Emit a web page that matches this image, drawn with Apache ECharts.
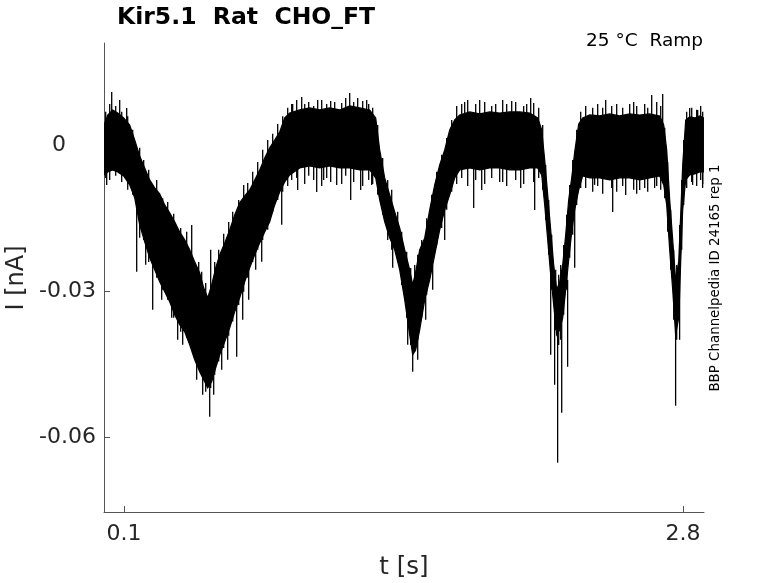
<!DOCTYPE html>
<html><head><meta charset="utf-8">
<script src="https://cdn.jsdelivr.net/npm/echarts@6/dist/echarts.min.js"></script>
<style>html,body{margin:0;padding:0;background:#fff}#c{width:778px;height:583px}</style>
</head><body><div id="c"></div>
<script>
// Envelope of the noisy current trace (time in s, current in nA)
const timeS = [0.0035,0.0213,0.0454,0.0696,0.0985,0.1275,0.1517,0.1758,0.2000,0.2241,0.2483,0.2724,0.2966,0.3207,0.3449,0.3690,0.3932,0.4173,0.4415,0.4656,0.4849,0.5043,0.5236,0.5429,0.5622,0.5864,0.6105,0.6347,0.6588,0.6830,0.7071,0.7313,0.7554,0.7796,0.8037,0.8279,0.8520,0.8762,0.9003,0.9486,0.9969,1.0452,1.0935,1.1418,1.1901,1.2384,1.2867,1.3157,1.3350,1.3592,1.3833,1.4075,1.4316,1.4558,1.4799,1.4944,1.5089,1.5282,1.5524,1.5765,1.6007,1.6248,1.6490,1.6731,1.6973,1.7214,1.7697,1.8180,1.8663,1.9146,1.9629,2.0112,2.0595,2.0982,2.1175,2.1320,2.1465,2.1609,2.1754,2.1899,2.2044,2.2189,2.2334,2.2479,2.2624,2.2769,2.2962,2.3155,2.3493,2.3976,2.4459,2.4942,2.5425,2.5908,2.6391,2.6874,2.7068,2.7212,2.7357,2.7502,2.7643,2.7792,2.7888,2.7985,2.8130,2.8323,2.8565,2.8806,2.8999];
const upperNA = [0.0041,0.00614,0.00717,0.00655,0.00553,0.0041,0.00102,-0.00225,-0.00471,-0.00717,-0.00881,-0.01003,-0.01229,-0.01393,-0.01577,-0.01782,-0.01946,-0.0215,-0.02396,-0.02621,-0.02928,-0.03133,-0.02867,-0.02519,-0.02253,-0.02007,-0.01741,-0.01434,-0.01188,-0.01044,-0.00922,-0.00717,-0.00512,-0.00266,-0.00061,0.00102,0.00266,0.00553,0.00655,0.00717,0.00758,0.00717,0.00758,0.00717,0.00799,0.00758,0.00717,0.00553,-0.00102,-0.00676,-0.01024,-0.01372,-0.017,-0.0215,-0.0256,-0.02867,-0.02601,-0.0215,-0.01905,-0.01331,-0.00819,-0.0041,-0.00102,0.00307,0.00512,0.00614,0.00676,0.00635,0.00676,0.00655,0.00676,0.00676,0.00655,0.00553,0.00307,-0.00307,-0.01024,-0.01741,-0.02457,-0.02969,-0.02806,-0.02457,-0.01843,-0.01126,-0.00676,-0.00143,0.0043,0.00553,0.00614,0.00594,0.00635,0.00594,0.00635,0.00614,0.00635,0.00594,0.0041,-0.00102,-0.01126,-0.01946,-0.02765,-0.02396,-0.01434,-0.0041,0.00512,0.00573,0.00553,0.00594,0.00553];
const lowerNA = [-0.00614,-0.00553,-0.00512,-0.00553,-0.00635,-0.00819,-0.01085,-0.01638,-0.01986,-0.02314,-0.0256,-0.02806,-0.0301,-0.03215,-0.03481,-0.03686,-0.0383,-0.04096,-0.04403,-0.04649,-0.04813,-0.04976,-0.04854,-0.04567,-0.04301,-0.04034,-0.03748,-0.0342,-0.03133,-0.02806,-0.02519,-0.02253,-0.02007,-0.01782,-0.01577,-0.01229,-0.00963,-0.00758,-0.00614,-0.00471,-0.0043,-0.00471,-0.0043,-0.00471,-0.00471,-0.00512,-0.00512,-0.00676,-0.01126,-0.01577,-0.01905,-0.0215,-0.0256,-0.03174,-0.03891,-0.04301,-0.04198,-0.03789,-0.03174,-0.02765,-0.02253,-0.01741,-0.01331,-0.01024,-0.00676,-0.00512,-0.00471,-0.00512,-0.00471,-0.00471,-0.00512,-0.00512,-0.00471,-0.00471,-0.00614,-0.01229,-0.01946,-0.02662,-0.03277,-0.03891,-0.03789,-0.03543,-0.02969,-0.02355,-0.01782,-0.01331,-0.00922,-0.00635,-0.00676,-0.00676,-0.00717,-0.00676,-0.00676,-0.00717,-0.00676,-0.00635,-0.00819,-0.01229,-0.0215,-0.02969,-0.03891,-0.03543,-0.02396,-0.01331,-0.00717,-0.00614,-0.00594,-0.00553,-0.00553];

// Noise columns: time, highest and lowest excursion of the trace at that time
const hairT  = [0.0116,0.0309,0.0599,0.0889,0.1179,0.1420,0.1758,0.1951,0.2193,0.2579,0.2869,0.3111,0.3400,0.3738,0.4028,0.4270,0.4608,0.4753,0.4946,0.5187,0.5381,0.5574,0.5815,0.6057,0.6250,0.6540,0.6781,0.6975,0.7216,0.7458,0.7699,0.7941,0.8182,0.8424,0.8665,0.8907,0.9100,0.9341,0.9728,0.9921,1.0162,1.0549,1.0790,1.0983,1.1515,1.1708,1.2094,1.2529,1.2819,1.3012,1.3254,1.3495,1.3737,1.3930,1.4220,1.4413,1.4654,1.4847,1.5041,1.5186,1.5379,1.5620,1.5862,1.6103,1.6345,1.6586,1.6828,1.7069,1.7311,1.7601,1.7987,1.8422,1.8760,1.9291,1.9484,1.9919,2.0305,2.0788,2.1030,2.1223,2.1368,2.1513,2.1657,2.1851,2.1996,2.2092,2.2237,2.2382,2.2527,2.2672,2.2865,2.3058,2.3300,2.3638,2.3879,2.4121,2.4556,2.4797,2.5087,2.5618,2.5763,2.6150,2.6295,2.6730,2.6923,2.7116,2.7260,2.7405,2.7550,2.7695,2.7840,2.7937,2.8033,2.8178,2.8420,2.8661,2.8854,2.8950];
const hairHi = [0.0068,0.0084,0.0080,0.0068,0.0059,0.0031,-0.0006,-0.0031,-0.0051,-0.0072,-0.0109,-0.0117,-0.0141,-0.0170,-0.0178,-0.0164,-0.0240,-0.0260,-0.0283,-0.0215,-0.0240,-0.0215,-0.0182,-0.0158,-0.0137,-0.0113,-0.0082,-0.0078,-0.0055,-0.0035,-0.0010,0.0010,0.0023,0.0043,0.0059,0.0076,0.0084,0.0092,0.0084,0.0088,0.0080,0.0092,0.0084,0.0090,0.0086,0.0096,0.0088,0.0090,0.0084,0.0076,0.0041,-0.0027,-0.0072,-0.0092,-0.0137,-0.0178,-0.0219,-0.0252,-0.0246,-0.0225,-0.0195,-0.0150,-0.0102,-0.0055,-0.0020,0.0014,0.0051,0.0080,0.0084,0.0092,0.0084,0.0088,0.0080,0.0092,0.0084,0.0088,0.0080,0.0086,0.0076,0.0041,-0.0041,-0.0113,-0.0184,-0.0256,-0.0266,-0.0246,-0.0205,-0.0143,-0.0082,-0.0031,0.0031,0.0068,0.0080,0.0076,0.0084,0.0076,0.0080,0.0084,0.0076,0.0088,0.0080,0.0084,0.0076,0.0088,0.0080,0.0035,-0.0035,-0.0133,-0.0215,-0.0246,-0.0164,-0.0072,0.0010,0.0068,0.0076,0.0072,0.0080,0.0068];
const hairLo = [-0.0068,-0.0072,-0.0063,-0.0076,-0.0092,-0.0102,-0.0190,-0.0195,-0.0240,-0.0272,-0.0297,-0.0317,-0.0354,-0.0383,-0.0395,-0.0420,-0.0457,-0.0473,-0.0506,-0.0498,-0.0471,-0.0444,-0.0416,-0.0391,-0.0362,-0.0328,-0.0301,-0.0272,-0.0240,-0.0215,-0.0195,-0.0174,-0.0137,-0.0113,-0.0096,-0.0084,-0.0072,-0.0068,-0.0080,-0.0063,-0.0072,-0.0084,-0.0068,-0.0076,-0.0080,-0.0063,-0.0076,-0.0084,-0.0072,-0.0080,-0.0102,-0.0143,-0.0195,-0.0215,-0.0240,-0.0287,-0.0354,-0.0410,-0.0424,-0.0399,-0.0354,-0.0307,-0.0260,-0.0205,-0.0170,-0.0133,-0.0096,-0.0080,-0.0068,-0.0084,-0.0072,-0.0080,-0.0068,-0.0076,-0.0084,-0.0072,-0.0080,-0.0076,-0.0068,-0.0092,-0.0154,-0.0225,-0.0297,-0.0379,-0.0410,-0.0399,-0.0348,-0.0297,-0.0231,-0.0184,-0.0123,-0.0088,-0.0088,-0.0096,-0.0084,-0.0100,-0.0088,-0.0096,-0.0084,-0.0092,-0.0100,-0.0088,-0.0096,-0.0084,-0.0092,-0.0109,-0.0178,-0.0256,-0.0358,-0.0399,-0.0317,-0.0215,-0.0123,-0.0088,-0.0076,-0.0084,-0.0072,-0.0080];

// Individual larger spikes: time, start (inside the band), tip
const spikeT    = [0.0406,0.0792,0.1130,0.9148,0.9583,1.0356,1.1177,1.1901,1.2287,1.2722,1.7455,1.8180,1.8953,1.9726,2.0450,2.0643,2.4266,2.5425,2.6488,2.7019,2.8323,2.8709,
                   0.0164,0.1613,0.2048,0.2386,0.2821,0.3304,0.3593,0.3835,0.4511,0.4801,0.5139,0.5332,0.5719,0.6008,0.6443,0.6733,0.7023,0.7361,0.7651,0.8617,0.9389,1.0307,1.0645,1.1273,1.1949,1.2432,1.2964,1.3978,1.4703,1.4944,1.5186,1.5572,1.5910,1.6490,1.7890,1.8277,1.9146,2.0161,2.0836,2.1609,2.1799,2.1944,2.2141,2.2427,2.2769,2.3731,2.4604,2.5232,2.5908,2.6629,2.7643,2.7836,2.8464,2.8947];
const spikeBase = [0.00512,0.0041,0.00307,0.00512,0.00512,0.00512,0.00512,0.00512,0.00512,0.00512,0.0041,0.0041,0.0041,0.0041,0.0041,0.0041,0.0041,0.0041,0.0041,0.0041,0.0041,0.0041,
                   -0.00307,-0.01024,-0.01638,-0.0215,-0.0256,-0.02969,-0.03277,-0.03481,-0.04198,-0.04505,-0.0471,-0.04608,-0.03993,-0.03686,-0.03174,-0.02969,-0.02457,-0.02048,-0.01843,-0.00819,-0.00307,-0.00307,-0.00307,-0.00307,-0.00307,-0.00307,-0.00307,-0.01946,-0.03481,-0.04096,-0.03891,-0.03072,-0.02457,-0.01229,-0.00307,-0.00307,-0.00307,-0.00307,-0.00307,-0.0256,-0.03174,-0.03584,-0.03481,-0.02765,-0.01229,-0.00307,-0.00307,-0.00307,-0.00307,-0.00307,-0.03584,-0.03174,-0.00307,-0.00307];
const spikeTip  = [0.01085,0.00922,0.00758,0.0084,0.00983,0.00922,0.00881,0.01065,0.00963,0.00922,0.00881,0.00922,0.0084,0.00901,0.0084,0.00963,0.00922,0.0084,0.01024,0.01044,0.00758,0.00717,
                   -0.00819,-0.02601,-0.02457,-0.03379,-0.03174,-0.03543,-0.03993,-0.04096,-0.04813,-0.0512,-0.0557,-0.0512,-0.04608,-0.04403,-0.04342,-0.03584,-0.03174,-0.0256,-0.02396,-0.01638,-0.00922,-0.00963,-0.00717,-0.00819,-0.01126,-0.00922,-0.00819,-0.02519,-0.04096,-0.04649,-0.04403,-0.03584,-0.02969,-0.01946,-0.0129,-0.00922,-0.00758,-0.00881,-0.01331,-0.04301,-0.04915,-0.06512,-0.05488,-0.04546,-0.02519,-0.00819,-0.01372,-0.01024,-0.00922,-0.00881,-0.05345,-0.03993,-0.00819,-0.00881];

const xTicks = [0.1, 2.8];
const yTicks = [-0.06, -0.03, 0];
const xRange = [0.0034, 2.9014];
const yRange = [-0.07522, 0.02089];

const chart = echarts.init(document.getElementById('c'), null, {renderer: 'canvas'});
const FONT = 'DejaVu Sans';
const AX = '#555555';
const TXT = '#262626';

const bandData = timeS.map((t, i) => [t, upperNA[i], lowerNA[i]]);
const hairData = hairT.map((t, i) => [t, hairHi[i], hairLo[i]]);
const spikeData = spikeT.map((t, i) => [t, spikeBase[i], spikeTip[i]]);

function vline(lw) {
  return function (params, api) {
    const a = api.coord([api.value(0), api.value(1)]);
    const b = api.coord([api.value(0), api.value(2)]);
    return {type: 'line', shape: {x1: a[0], y1: a[1], x2: b[0], y2: b[1]}, style: {stroke: '#000', lineWidth: lw}};
  };
}

chart.setOption({
  animation: false,
  backgroundColor: '#ffffff',
  grid: {left: 104, right: 74, top: 43, bottom: 71, containLabel: false},
  xAxis: {
    type: 'value', min: xRange[0], max: xRange[1],
    splitLine: {show: false},
    axisLine: {show: true, onZero: false, lineStyle: {color: AX, width: 1}},
    axisTick: {show: true, inside: true, length: 6, customValues: xTicks, lineStyle: {color: AX}},
    axisLabel: {customValues: xTicks, formatter: v => String(v), fontSize: 22, fontFamily: FONT, color: TXT, margin: 11}
  },
  yAxis: {
    type: 'value', min: yRange[0], max: yRange[1],
    splitLine: {show: false},
    axisLine: {show: true, onZero: false, lineStyle: {color: AX, width: 1}},
    axisTick: {show: true, inside: true, length: 6, customValues: yTicks, lineStyle: {color: AX}},
    axisLabel: {
      customValues: yTicks,
      formatter: v => (v === 0 ? '{z|0}' : String(v)),
      fontSize: 22, fontFamily: FONT, color: TXT, margin: 8,
      rich: {z: {fontSize: 22, fontFamily: FONT, color: TXT, padding: [0, 30, 0, 0]}}
    }
  },
  series: [
    {
      type: 'custom', silent: true, clip: true,
      data: bandData,
      encode: {x: 0, y: [1, 2]},
      renderItem: function (params, api) {
        if (params.dataIndex !== 0) return null;
        const pts = [];
        for (let i = 0; i < bandData.length; i++) pts.push(api.coord([bandData[i][0], bandData[i][1]]));
        for (let i = bandData.length - 1; i >= 0; i--) pts.push(api.coord([bandData[i][0], bandData[i][2]]));
        return {type: 'polygon', shape: {points: pts}, style: {fill: '#000', stroke: '#000', lineWidth: 1.2}};
      }
    },
    {type: 'custom', silent: true, clip: true, data: hairData, encode: {x: 0, y: [1, 2]}, renderItem: vline(1.3)},
    {type: 'custom', silent: true, clip: true, data: spikeData, encode: {x: 0, y: [1, 2]}, renderItem: vline(1.3)}
  ],
  graphic: [
    {type: 'text', x: 117, y: 18, style: {text: 'Kir5.1  Rat  CHO_FT', fill: '#000', font: 'bold 23.5px "DejaVu Sans"', align: 'left', verticalAlign: 'middle'}},
    {type: 'text', x: 703, y: 41, style: {text: '25 °C  Ramp', fill: '#000', font: '18.5px "DejaVu Sans"', align: 'right', verticalAlign: 'middle'}},
    {type: 'text', x: 716, y: 278, rotation: Math.PI / 2, style: {text: 'BBP Channelpedia ID 24165 rep 1', fill: '#000', font: '13.4px "DejaVu Sans"', align: 'center', verticalAlign: 'middle'}},
    {type: 'text', x: 17, y: 278, rotation: Math.PI / 2, style: {text: 'I [nA]', fill: TXT, font: '24px "DejaVu Sans"', align: 'center', verticalAlign: 'middle'}},
    {type: 'text', x: 404, y: 568, style: {text: 't [s]', fill: TXT, font: '24.5px "DejaVu Sans"', align: 'center', verticalAlign: 'middle'}}
  ]
});
</script></body></html>
